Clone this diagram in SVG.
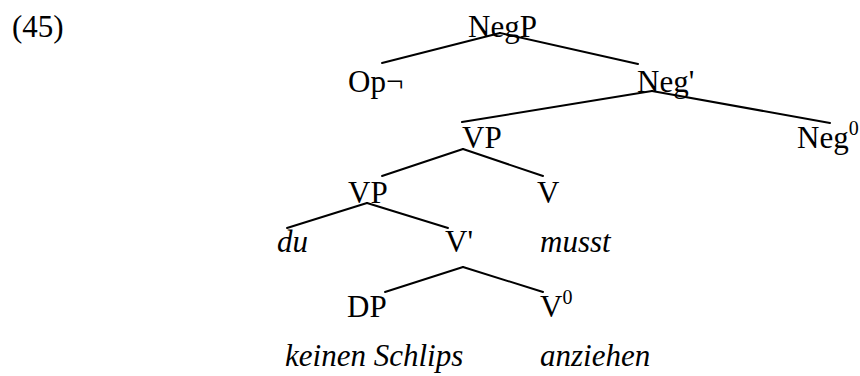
<svg xmlns="http://www.w3.org/2000/svg" width="860" height="376" viewBox="0 0 860 376">
<style>
text{font-family:'Liberation Serif','Times New Roman',Times,Tinos,'DejaVu Serif',serif;font-size:31px;fill:#000}
.it{font-style:italic}
.sup{font-size:20px}
#edges line{stroke:#000;stroke-width:2;stroke-linecap:round}
</style>
<rect width="860" height="376" fill="#fff"/>
<text x="12" y="37">(45)</text>
<g id="edges">
<line x1="500" y1="33" x2="382" y2="63"/>
<line x1="500" y1="33" x2="638" y2="64"/>
<line x1="652" y1="91" x2="462" y2="122"/>
<line x1="652" y1="91" x2="830" y2="123"/>
<line x1="463" y1="149" x2="382" y2="176"/>
<line x1="463" y1="149" x2="543" y2="176"/>
<line x1="367" y1="203" x2="287" y2="228"/>
<line x1="367" y1="203" x2="448" y2="228"/>
<line x1="463" y1="267" x2="385" y2="292"/>
<line x1="463" y1="267" x2="543" y2="292"/>
</g>
<g id="NegP"><text x="468" y="37">NegP</text></g>
<g id="Op"><text x="348" y="92">Op¬</text></g>
<g id="NegBar"><text x="637" y="92">Neg'</text></g>
<g id="VP1"><text x="462" y="148">VP</text></g>
<g id="Neg0"><text x="797" y="148">Neg<tspan class="sup" dy="-13">0</tspan></text></g>
<g id="VP2"><text x="348" y="203">VP</text></g>
<g id="V"><text x="537" y="203">V</text></g>
<g id="du"><text class="it" x="277" y="252">du</text></g>
<g id="VBar"><text x="445" y="252">V'</text></g>
<g id="musst"><text class="it" x="540" y="252">musst</text></g>
<g id="DP"><text x="347" y="317">DP</text></g>
<g id="V0"><text x="540" y="317">V<tspan class="sup" dy="-13">0</tspan></text></g>
<g id="keinen"><text class="it" x="285" y="366">keinen Schlips</text></g>
<g id="anziehen"><text class="it" x="540" y="366">anziehen</text></g>
</svg>
